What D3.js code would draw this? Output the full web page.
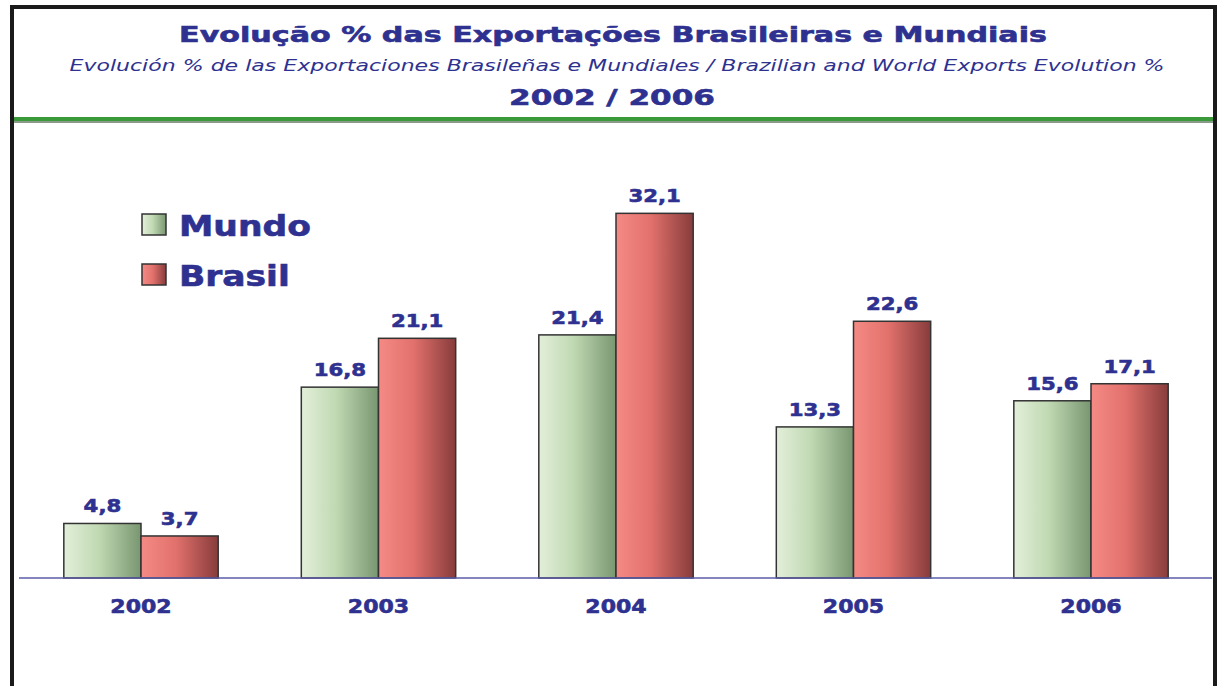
<!DOCTYPE html>
<html>
<head>
<meta charset="utf-8">
<script src="https://cdn.jsdelivr.net/npm/d3@7"></script>
<style>
  body { margin: 0; background: #fff; }
  svg { display: block; }
  .heavy { stroke: #2e318f; stroke-width: 0.6px; }
</style>
</head>
<body>
<div class="bar-chart"></div>
<script>
var years = ["2002", "2003", "2004", "2005", "2006"];
var mundo = [4.8, 16.8, 21.4, 13.3, 15.6];
var brasil = [3.7, 21.1, 32.1, 22.6, 17.1];
var seriesNames = ["Mundo", "Brasil"];

var width = 1218;
var height = 686;
var textColor = "#2e318f";
var baseY = 578;

var svg = d3.select(".bar-chart").append("svg")
  .attr("width", width).attr("height", height)
  .style("font-family", "'DejaVu Sans', Verdana, sans-serif");

// the original lettering is wider than DejaVu, so stretch glyphs sideways.
// factor: multiply width by it; target: exact width in px
function stretch(sel, factor, target) {
  sel.each(function() {
    var t = d3.select(this);
    var f = target ? target / this.getComputedTextLength() : factor;
    var tx = +t.attr("x") || 0, ty = +t.attr("y") || 0;
    t.attr("x", 0).attr("y", 0)
      .attr("transform", "translate(" + tx + "," + ty + ") scale(" + f + ",1)");
  });
}

// gradients for the bars
var defs = svg.append("defs");
var gGreen = defs.append("linearGradient").attr("id", "gGreen");
gGreen.append("stop").attr("offset", "0%").attr("stop-color", "#e3efd9");
gGreen.append("stop").attr("offset", "45%").attr("stop-color", "#c0d9b3");
gGreen.append("stop").attr("offset", "100%").attr("stop-color", "#789670");
var gRed = defs.append("linearGradient").attr("id", "gRed");
gRed.append("stop").attr("offset", "0%").attr("stop-color", "#f58a84");
gRed.append("stop").attr("offset", "45%").attr("stop-color", "#e2716c");
gRed.append("stop").attr("offset", "100%").attr("stop-color", "#873c3c");
var fills = ["url(#gGreen)", "url(#gRed)"];

// frame
svg.append("path")
  .attr("d", "M12,686 V7 H1215 V686")
  .attr("fill", "none").attr("stroke", "#1a1a1a").attr("stroke-width", 4);

// green rule under the header
svg.append("rect").attr("x", 14).attr("y", 117).attr("width", 1199).attr("height", 4).attr("fill", "#3a9a3a");
svg.append("rect").attr("x", 14).attr("y", 121).attr("width", 1199).attr("height", 2).attr("fill", "#8a9a8a");

// titles
svg.append("text").attr("class", "heavy").attr("x", 613).attr("y", 42)
  .attr("text-anchor", "middle").attr("fill", textColor)
  .style("font-weight", "bold").style("font-size", "21px")
  .text("Evolução % das Exportações Brasileiras e Mundiais")
  .call(stretch, 0, 868);
svg.append("text").attr("x", 617).attr("y", 71)
  .attr("text-anchor", "middle").attr("fill", textColor)
  .style("font-style", "italic").style("font-size", "15px")
  .text("Evolución % de las Exportaciones Brasileñas e Mundiales / Brazilian and World Exports Evolution %")
  .call(stretch, 0, 1096);
svg.append("text").attr("class", "heavy").attr("x", 612).attr("y", 105)
  .attr("text-anchor", "middle").attr("fill", textColor)
  .style("font-weight", "bold").style("font-size", "22px")
  .text("2002 / 2006")
  .call(stretch, 0, 206);

// scales
var x = d3.scaleBand().domain(years).range([22.25, 1209.75]).paddingInner(0.35).paddingOuter(0.175);
var xs = d3.scaleBand().domain([0, 1]).range([0, x.bandwidth()]);
var y = d3.scaleLinear().domain([0, 35]).range([baseY, baseY - 35 * 11.36]);

var rows = years.map(function(yr, i) { return {year: yr, vals: [mundo[i], brasil[i]]}; });

var groups = svg.append("g").selectAll("g").data(rows).enter().append("g")
  .attr("transform", function(d) { return "translate(" + x(d.year) + ",0)"; });

groups.selectAll("rect").data(function(d) { return d.vals; }).enter().append("rect")
  .attr("x", function(d, i) { return xs(i); })
  .attr("y", function(d) { return y(d); })
  .attr("width", xs.bandwidth())
  .attr("height", function(d) { return baseY - y(d); })
  .attr("fill", function(d, i) { return fills[i]; })
  .attr("stroke", "#333").attr("stroke-width", 1.5);

groups.selectAll("text").data(function(d) { return d.vals; }).enter().append("text")
  .attr("class", "heavy")
  .attr("x", function(d, i) { return xs(i) + xs.bandwidth() / 2; })
  .attr("y", function(d) { return y(d) - 11; })
  .attr("text-anchor", "middle").attr("fill", textColor)
  .style("font-weight", "bold").style("font-size", "18px")
  .text(function(d) { return d3.format(".1f")(d).replace(".", ","); })
  .call(stretch, 1.18);

// baseline and year labels
var xAxis = d3.axisBottom(x).tickSize(0).tickPadding(22);
var axisG = svg.append("g").attr("transform", "translate(0," + baseY + ")").call(xAxis);
axisG.select(".domain").attr("d", "M19,0H1212").attr("stroke", "#5b5ba8").attr("stroke-width", 1.5);
axisG.selectAll("text").attr("class", "heavy").attr("fill", textColor)
  .style("font-family", "'DejaVu Sans', Verdana, sans-serif")
  .style("font-weight", "bold").style("font-size", "19px")
  .call(stretch, 1.16);

// legend
var legend = svg.append("g").selectAll("g").data(seriesNames).enter().append("g")
  .attr("transform", function(d, i) { return "translate(142," + (214 + i * 50) + ")"; });
legend.append("rect").attr("width", 24).attr("height", 21)
  .attr("fill", function(d, i) { return fills[i]; })
  .attr("stroke", "#333").attr("stroke-width", 1.5);
legend.append("text").attr("class", "heavy").attr("x", 37).attr("y", 22)
  .attr("fill", textColor)
  .style("font-weight", "bold").style("font-size", "29px")
  .text(function(d) { return d; })
  .call(stretch, 1.19);
</script>
</body>
</html>
